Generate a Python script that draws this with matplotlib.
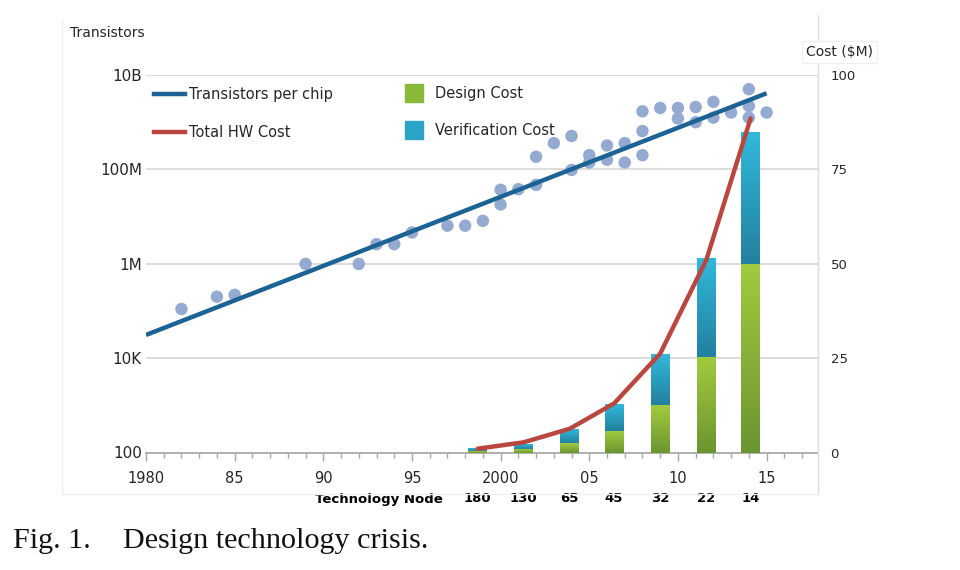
import matplotlib
matplotlib.use("Agg")
import matplotlib.pyplot as plt
import numpy as np
from matplotlib.colors import LinearSegmentedColormap
from matplotlib.lines import Line2D
from matplotlib.patches import Patch

# transistors per chip (dots)
chip_years = [1982, 1984, 1985, 1989, 1992, 1993, 1994, 1995, 1997, 1998, 1999,
              2000, 2000, 2001, 2002, 2002, 2003, 2004, 2004, 2005, 2005, 2006, 2006,
              2007, 2007, 2008, 2008, 2008, 2009, 2010, 2010, 2011, 2011, 2012, 2012,
              2013, 2014, 2014, 2014, 2015]
chip_counts = [1.1e5, 2.0e5, 2.2e5, 9.9e5, 9.9e5, 2.6e6, 2.6e6, 4.6e6, 6.4e6, 6.4e6, 8.1e6,
               1.8e7, 3.7e7, 3.8e7, 4.7e7, 1.85e8, 3.6e8, 5.1e8, 9.7e7, 2.0e8, 1.4e8, 3.2e8, 1.6e8,
               3.6e8, 1.4e8, 1.7e9, 6.5e8, 2.0e8, 2.0e9, 2.0e9, 1.2e9, 2.1e9, 1.0e9, 2.7e9, 1.25e9,
               1.6e9, 5.0e9, 2.2e9, 1.25e9, 1.6e9]

# fitted trend line
trend_years = [1980, 2015]
trend_counts = [3.1e4, 4.1e9]

# cost per technology node ($M)
node_years = [1998.7, 2001.3, 2003.9, 2006.4, 2009.0, 2011.6, 2014.1]
nodes = ["180", "130", "65", "45", "32", "22", "14"]
design_cost = [0.5, 1.0, 2.5, 5.7, 12.5, 25.2, 50.0]
verif_cost = [0.7, 1.3, 3.7, 7.1, 13.5, 26.3, 35.0]
total_hw_cost = [1.0, 2.7, 6.3, 13.0, 26.2, 51.0, 88.5]

year_ticks = [1980, 1985, 1990, 1995, 2000, 2005, 2010, 2015]
year_labels = ["1980", "85", "90", "95", "2000", "05", "10", "15"]
count_ticks = [1e2, 1e4, 1e6, 1e8, 1e10]
count_labels = ["100", "10K", "1M", "100M", "10B"]
cost_ticks = [0, 25, 50, 75, 100]

BLUE = "#1b6394"
RED = "#b9473f"
DOT = "#95aad0"
GREEN_CM = LinearSegmentedColormap.from_list("g", ["#6b9530", "#a2ca3e"])
CYAN_CM = LinearSegmentedColormap.from_list("c", ["#23809f", "#31b9db"])
TXT = "#262626"


def gradient_bars(ax, bars, cmap):
    grad = np.linspace(0, 1, 64).reshape(-1, 1)
    for p in bars.patches:
        x, y = p.get_x(), p.get_y()
        w, h = p.get_width(), p.get_height()
        im = ax.imshow(grad, extent=[x, x + w, y, y + h], origin="lower",
                       aspect="auto", cmap=cmap, zorder=p.get_zorder())
        im.set_clip_path(p)


fig = plt.figure(figsize=(9.6, 5.7), dpi=100)
fig.patch.set_facecolor("white")
ax = fig.add_axes([146 / 960, 1 - 452.5 / 570, 672 / 960, 377.5 / 570])
ax2 = ax.twinx()

# transistors (log axis)
ax.scatter(chip_years, chip_counts, s=80, color=DOT, edgecolors="none", zorder=2)
ax.plot(trend_years, trend_counts, color=BLUE, lw=3.2, zorder=3, solid_capstyle="butt")
ax.set_yscale("log")
ax.set_ylim(1e2, 1e10)
ax.set_xlim(1980, 2017.9)
ax.set_yticks(count_ticks)
ax.set_yticklabels(count_labels)
ax.yaxis.set_minor_locator(matplotlib.ticker.NullLocator())
ax.set_xticks(year_ticks)
ax.set_xticklabels(year_labels)
ax.set_xticks(np.arange(1980, 2018), minor=True)
ax.grid(axis="y", color="#d9d9d9", lw=1.3, zorder=0)
ax.tick_params(axis="y", length=0, pad=3, labelsize=11, labelcolor=TXT)
ax.tick_params(axis="x", which="major", length=6, width=1, color="#a6a6a6",
               pad=7.5, labelsize=10.5, labelcolor=TXT)
ax.tick_params(axis="x", which="minor", length=3.6, width=1, color="#a6a6a6")
for side in ["left", "top", "right"]:
    ax.spines[side].set_visible(False)
ax.spines["bottom"].set_color("#a6a6a6")
ax.spines["bottom"].set_linewidth(1.2)

# costs (linear axis)
b1 = ax2.bar(node_years, design_cost, width=1.07, color="#86b336", zorder=2)
b2 = ax2.bar(node_years, verif_cost, width=1.07, bottom=design_cost, color="#2a9cc0", zorder=2)
gradient_bars(ax2, b1, GREEN_CM)
gradient_bars(ax2, b2, CYAN_CM)
ax2.plot(node_years, total_hw_cost, color=RED, lw=3.2, zorder=4, solid_capstyle="round")
ax2.set_xlim(1980, 2017.9)
ax2.set_ylim(0, 100)
ax2.set_yticks(cost_ticks)
ax2.tick_params(axis="y", length=0, pad=9, labelsize=9.5, labelcolor=TXT)
for side in ["left", "top", "bottom"]:
    ax2.spines[side].set_visible(False)
ax2.spines["right"].set_color("#dcdcdc")

# technology node row
xt = ax.get_xaxis_transform()
node_y = -(499 - 452.5) / 377.5
ax.text(2017.9 - (818 - 443) / 17.74, node_y, "Technology Node",
        transform=xt, ha="right", va="center", fontsize=9.5, fontweight="bold", color="black")
for yr, nd in zip(node_years, nodes):
    ax.text(yr, node_y, nd, transform=xt, ha="center", va="center",
            fontsize=9.5, fontweight="bold", color="black")

# legends
line_handles = [Line2D([], [], color=BLUE, lw=3.2), Line2D([], [], color=RED, lw=3.2)]
leg1 = ax2.legend(line_handles, ["Transistors per chip", "Total HW Cost"],
                  loc="upper left", bbox_to_anchor=(0.012, 0.967), frameon=False,
                  fontsize=10.5, handlelength=2.1, handletextpad=0.3, labelspacing=1.52,
                  borderpad=0, borderaxespad=0, labelcolor=TXT)
ax2.add_artist(leg1)
patch_handles = [Patch(color="#8ab838"), Patch(color="#2aa3c6")]
ax2.legend(patch_handles, ["Design Cost", "Verification Cost"],
           loc="upper left", bbox_to_anchor=(0.385, 0.976), frameon=False,
           fontsize=10.5, handlelength=1.23, handleheight=1.5, handletextpad=0.82,
           labelspacing=1.3, borderpad=0, borderaxespad=0, labelcolor=TXT)

# axis titles
fig.text(70 / 960, 1 - 33 / 570, "Transistors", fontsize=10, color=TXT, va="center")
fig.text(806 / 960, 1 - 52 / 570, "Cost ($M)", fontsize=10, color=TXT, va="center",
         bbox=dict(facecolor="white", edgecolor="#efefef", pad=3))

# faint chart frame
fig.add_artist(Line2D([62 / 960, 62 / 960], [1 - 20 / 570, 1 - 494 / 570],
                      transform=fig.transFigure, color="#ededed", lw=1))
fig.add_artist(Line2D([818 / 960, 818 / 960], [1 - 15 / 570, 1 - 494 / 570],
                      transform=fig.transFigure, color="#dcdcdc", lw=1))
fig.add_artist(Line2D([62 / 960, 818 / 960], [1 - 494 / 570, 1 - 494 / 570],
                      transform=fig.transFigure, color="#f0f0f0", lw=1))

# caption
fig.text(13 / 960, 1 - 541 / 570, "Fig. 1.", fontsize=21.7, family="Liberation Serif",
         va="center", color="#111111")
fig.text(123 / 960, 1 - 541 / 570, "Design technology crisis.", fontsize=21.7,
         family="Liberation Serif", va="center", color="#111111")

fig.savefig("out.png", dpi=100)
